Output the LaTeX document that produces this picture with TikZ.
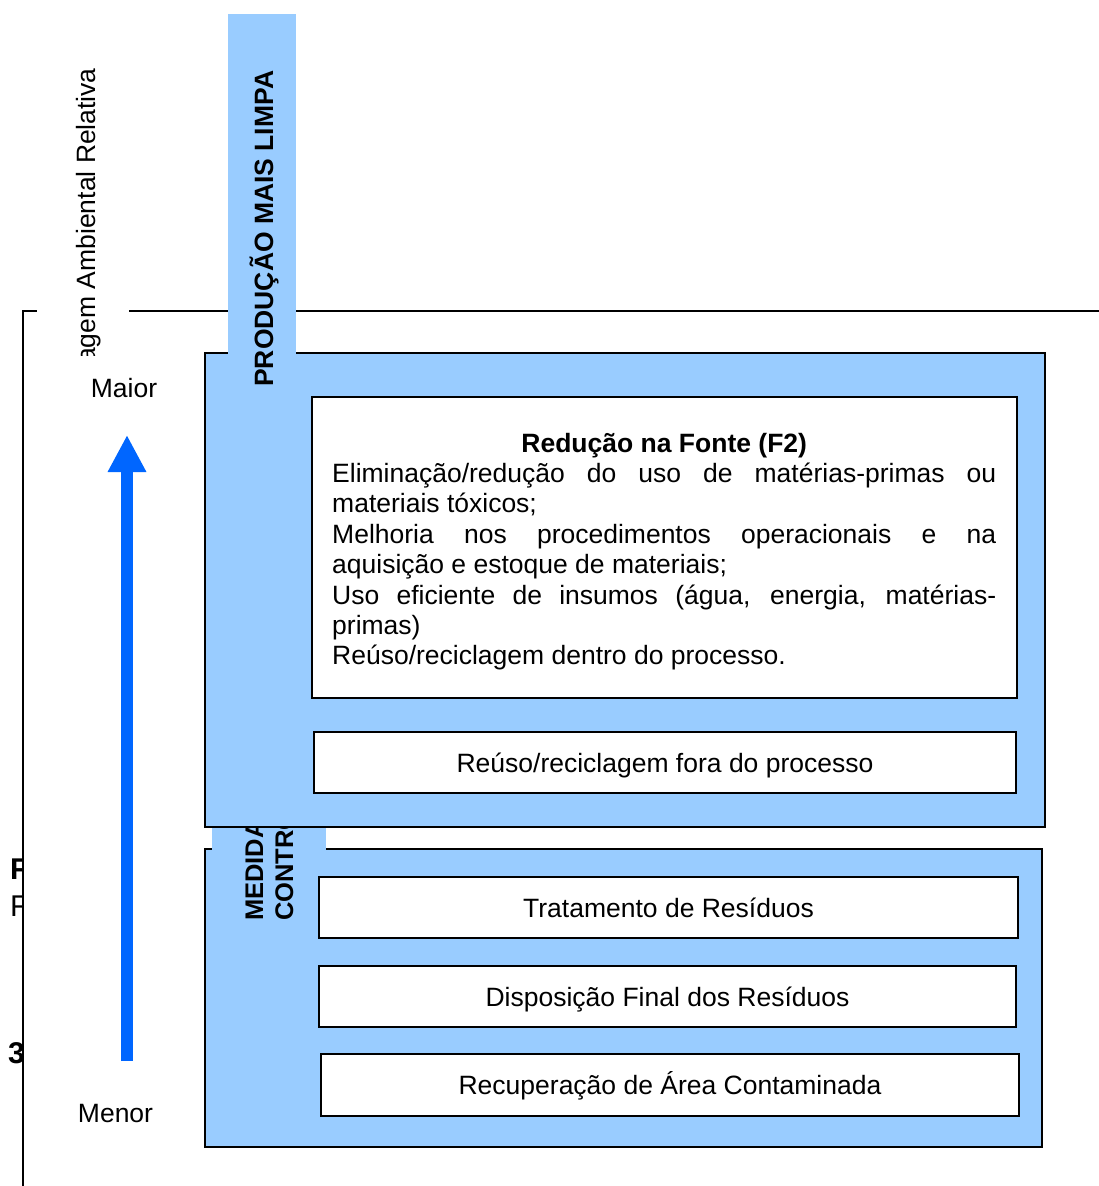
\documentclass[tikz,border=0pt]{standalone}
\usepackage{fontspec}
\setmainfont{Liberation Sans}
\usetikzlibrary{arrows.meta}
\definecolor{boxblue}{HTML}{99CCFF}
\definecolor{arrowblue}{HTML}{0066FF}
\newcommand\bodyfont{\fontsize{26.5}{30.4}\selectfont}
\newcommand\bigbold{\fontsize{25.5}{30}\selectfont\bfseries}
\newcommand\sidefont{\fontsize{30}{32}\selectfont}
\begin{document}
\begin{tikzpicture}[x=1pt,y=-1pt,
  frameline/.style={line width=2pt, black},
  bigbox/.style={draw=black, line width=2pt, fill=boxblue, rectangle, inner sep=0pt},
  tab/.style={fill=boxblue, draw=none},
  whitebox/.style={draw=black, line width=2pt, fill=white, rectangle, inner sep=0pt,
     text height=19pt, text depth=0pt, font=\bodyfont},
  plain/.style={inner sep=0pt, font=\bodyfont},
  rottitle/.style={inner sep=0pt, rotate=90, font=\bigbold},
  uparrow/.style={line width=12pt, arrowblue, -{Triangle[width=36pt,length=37pt]}}
]
\useasboundingbox (0,0) rectangle (1099,1186);

% frame lines
\coordinate (fb) at (23,1186);
\coordinate (fc) at (23,311);
\coordinate (fr) at (1099,311);
\draw[frameline] (fb) -- (fc) -- (fr);

% white text frame with clipped vertical label
\fill[white] (37,0) rectangle (129,355);
\begin{scope}
  \clip (37,0) rectangle (129,355);
  \node[plain, rotate=90, anchor=base east] (vant) at (95,68) {Vantagem Ambiental Relativa};
\end{scope}

% clipped letters at the left edge
\begin{scope}
  \clip (0,820) rectangle (22,1100);
  \node[inner sep=0pt, font=\sidefont\bfseries, anchor=base west] (lf1) at (10,879) {F};
  \node[inner sep=0pt, font=\sidefont, anchor=base west] (lf2) at (10,916) {F};
  \node[inner sep=0pt, font=\sidefont\bfseries, anchor=base west] (lf3) at (8,1063) {3};
\end{scope}

% lower big box and its tab
\node[bigbox, minimum width=837pt, minimum height=298pt] (box2) at (623.5,998) {};
\fill[tab] (212,790) rectangle (326,875);
\node[rottitle, anchor=base west] (med1) at (263,921) {MEDIDAS DE};
\node[rottitle, anchor=base west] (med2) at (293,921) {CONTROLE};

% upper big box and its tab
\node[bigbox, minimum width=840pt, minimum height=474pt] (box1) at (625,590) {};
\fill[tab] (228,14) rectangle (296,395);
\node[inner sep=0pt, rotate=90, font=\fontsize{26.5}{30}\selectfont\bfseries, anchor=base west] (pml) at (273,387) {PRODUÇÃO MAIS LIMPA};

% inner boxes
\node[draw=black, line width=2pt, fill=white, inner sep=0pt, minimum width=705pt, minimum height=301pt] (fonte) at (664.5,547.5) {};
\node[inner sep=0pt, anchor=base west, font=\bodyfont] (fontetext) at (332,452) {%
  \begin{minipage}[t]{664pt}\bodyfont
  \tolerance=10000 \hyphenpenalty=10000 \exhyphenpenalty=10000 \parindent=0pt \parskip=0pt
  {\centering\bfseries Redução na Fonte (F2)\par}
  Eliminação/redução do uso de matérias-primas ou\linebreak materiais tóxicos;\par
  Melhoria nos procedimentos operacionais e na\linebreak aquisição e estoque de materiais;\par
  Uso eficiente de insumos (água, energia, matérias-\linebreak primas)\par
  Reúso/reciclagem dentro do processo.\par
  \end{minipage}};

\node[whitebox, minimum width=702pt, minimum height=61pt] (fora) at (665,762.5) {Reúso/reciclagem fora do processo};
\node[whitebox, minimum width=699pt, minimum height=61pt] (trat) at (668.5,907.5) {Tratamento de Resíduos};
\node[whitebox, minimum width=697pt, minimum height=61pt] (disp) at (667.5,996.5) {Disposição Final dos Resíduos};
\node[whitebox, minimum width=698pt, minimum height=62pt] (recup) at (670,1085) {Recuperação de Área Contaminada};

% scale labels and arrow
\node[plain, anchor=base] (maior) at (124,397) {Maior};
\node[plain, anchor=base] (menor) at (115.5,1122) {Menor};
\coordinate (arrS) at (127,1061);
\coordinate (arrE) at (127,435);
\draw[uparrow] (arrS) -- (arrE);
\end{tikzpicture}
\end{document}
